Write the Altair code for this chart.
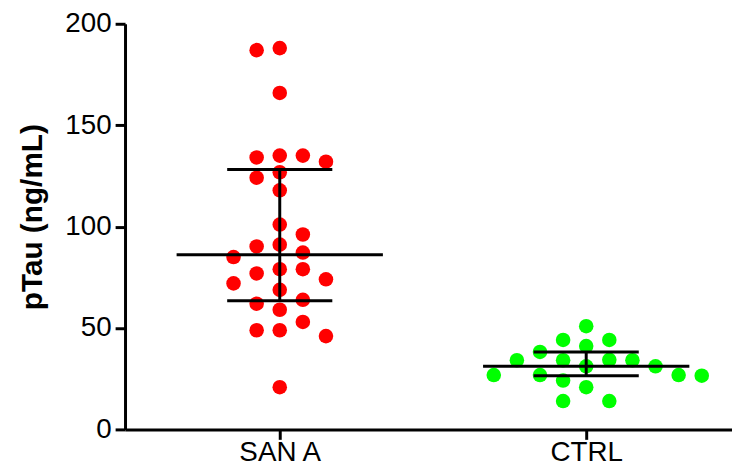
import altair as alt
import numpy as np
import pandas as pd

# ---- data ----
groups = ["SAN A", "CTRL"]
group_colors = ["#ff0000", "#00ff00"]
san_a = [188.0, 187.0, 165.9, 135.0, 134.1, 132.0, 135.0, 126.8, 124.1, 117.9,
         101.0, 96.1, 90.2, 91.1, 85.0, 87.2, 79.0, 74.0, 76.9, 79.0,
         72.0, 68.8, 63.9, 62.0, 59.0, 53.0, 48.9, 48.9, 46.0, 20.8]
ctrl = [34.1, 31.1, 26.8, 44.1, 26.5, 20.8, 34.3, 41.1, 38.2, 26.8,
        14.0, 44.1, 26.8, 14.0, 50.9, 31.1, 24.1, 34.1, 34.1]
y_ticks = [0, 50, 100, 150, 200]
y_title = "pTau (ng/mL)"

# ---- layout constants ----
PX_PER_UNIT = 309.0          # pixels between the two group centres
PLOT_W, PLOT_H = 612, 409
X_LO = 1 - 156 / PX_PER_UNIT
X_HI = X_LO + PLOT_W / PX_PER_UNIT
STEP = 23.3 / PX_PER_UNIT    # horizontal spacing of swarm columns
MED_HALF = 104 / PX_PER_UNIT
CAP_HALF = 53 / PX_PER_UNIT
FONT = "Liberation Sans"


def swarm(vals, thr=8.0):
    """Simple grid beeswarm: put each point in the nearest free column."""
    order = sorted(range(len(vals)), key=lambda i: -vals[i])
    cols = {}
    offs = [0] * len(vals)
    side_count = {-1: 0, 1: 0}
    for i in order:
        v = vals[i]
        k = 0
        placed = None
        while placed is None:
            if k == 0:
                cands = [0]
            else:
                sides = sorted([-1, 1], key=lambda s: side_count[s])
                cands = [s * k for s in sides]
            for c in cands:
                if all(abs(v - u) >= thr for u in cols.get(c, [])):
                    placed = c
                    break
            k += 1
        cols.setdefault(placed, []).append(v)
        offs[i] = placed
        if placed:
            side_count[1 if placed > 0 else -1] += 1
    return offs


series = [san_a, ctrl]
rows = []
summ = []
for gi, (g, vals) in enumerate(zip(groups, series)):
    centre = gi + 1
    offs = swarm(vals)
    for v, o in zip(vals, offs):
        rows.append({"group": g, "value": v, "pos": centre + o * STEP})
    q1, med, q3 = np.percentile(vals, [25, 50, 75], method="weibull")
    summ.append({"group": g, "centre": centre, "median": med, "q1": q1, "q3": q3,
                 "mlo": centre - MED_HALF, "mhi": centre + MED_HALF,
                 "clo": centre - CAP_HALF, "chi": centre + CAP_HALF})
points = pd.DataFrame(rows)
summary = pd.DataFrame(summ)

label_expr = " : ".join(
    f"datum.value == {i + 1} ? '{g}'" for i, g in enumerate(groups)
) + " : ''"

xscale = alt.Scale(domain=[X_LO, X_HI], nice=False, zero=False)
yscale = alt.Scale(domain=[0, 200], nice=False)
xaxis = alt.Axis(values=[1, 2], labelExpr=label_expr, grid=False,
                 labelBaseline="alphabetic", labelPadding=21, labelFlush=False,
                 labelOverlap=False)
yaxis = alt.Axis(values=y_ticks, grid=False, labelPadding=4,
                 titleX=-84, titleY=194.5, titleAngle=270, titleAlign="center",
                 titleBaseline="alphabetic")


def X(field):
    return alt.X(field, type="quantitative", scale=xscale, axis=xaxis, title=None)


def Y(field):
    return alt.Y(field, type="quantitative", scale=yscale, axis=yaxis, title=y_title)


pts = alt.Chart(points).mark_circle(size=215, opacity=1).encode(
    x=X("pos"),
    y=Y("value"),
    color=alt.Color("group:N", scale=alt.Scale(domain=groups, range=group_colors),
                    legend=None),
)

rule_style = dict(strokeWidth=3, color="black")
base = alt.Chart(summary)
med_line = base.mark_rule(**rule_style).encode(x=X("mlo"), x2="mhi", y=Y("median"))
q1_line = base.mark_rule(**rule_style).encode(x=X("clo"), x2="chi", y=Y("q1"))
q3_line = base.mark_rule(**rule_style).encode(x=X("clo"), x2="chi", y=Y("q3"))
vert = base.mark_rule(**rule_style).encode(x=X("centre"), y=Y("q1"), y2="q3")

chart = alt.layer(pts, med_line, q1_line, q3_line, vert).properties(
    width=PLOT_W,
    height=PLOT_H,
    autosize=alt.AutoSizeParams(type="none"),
    padding={"left": 118, "top": 14, "right": 0, "bottom": 37},
).configure_view(stroke=None).configure_axis(
    domainColor="black", domainWidth=3, tickColor="black", tickWidth=3, tickSize=10,
    labelFont=FONT, labelFontSize=28, labelColor="black",
    titleFont=FONT, titleFontSize=30, titleFontWeight="bold", titleColor="black",
)

chart.save("out.html", embed_options={"renderer": "svg", "actions": False})
